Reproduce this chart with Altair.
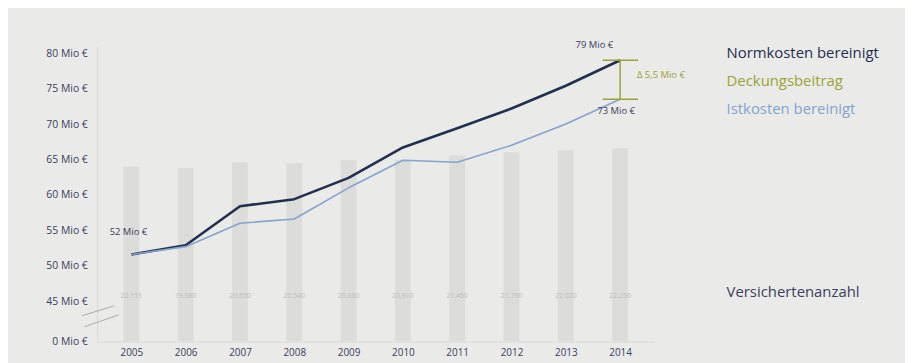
import altair as alt
import pandas as pd

years = [2005, 2006, 2007, 2008, 2009, 2010, 2011, 2012, 2013, 2014]
normkosten = [51.6, 52.9, 58.4, 59.4, 62.4, 66.7, 69.4, 72.2, 75.4, 79.0]
istkosten = [51.6, 52.7, 56.0, 56.6, 61.0, 64.9, 64.6, 67.0, 70.0, 73.5]
versicherte = [20151, 19980, 20650, 20540, 20880, 20910, 21450, 21790, 22020, 22250]
versicherte_labels = ["20.151", "19.980", "20.650", "20.540", "20.880",
                      "20.910", "21.450", "21.790", "22.020", "22.250"]
y_ticks = [39.3, 45, 50, 55, 60, 65, 70, 75, 80]

NAVY = "#22304f"
LIGHT = "#84a4cd"
OLIVE = "#9aa33a"
FONT = "Open Sans"
BG = "#eaeae8"

x_scale = alt.Scale(domain=[2004.462, 2014.537], nice=False, zero=False)
y_scale = alt.Scale(domain=[39.3, 80.98], nice=False, zero=False)
x_axis = alt.Axis(values=years, format="d", title=None, grid=False, ticks=False,
                  labelFont=FONT, labelFontSize=10, labelColor="#3b4060", labelPadding=6,
                  domainColor="#dcdcdc", labelFlush=False)


def X(field):
    return alt.X(field, scale=x_scale, axis=x_axis, title=None)


df_bars = pd.DataFrame({"year": years, "count": versicherte, "label": versicherte_labels})
df_lines = pd.DataFrame({
    "year": years * 2,
    "value": normkosten + istkosten,
    "series": ["Normkosten bereinigt"] * len(years) + ["Istkosten bereinigt"] * len(years),
})

bars = alt.Chart(df_bars).mark_bar(width=16, color="#dcdcda").encode(
    x=X("year:Q"),
    y=alt.Y("count:Q", scale=alt.Scale(domain=[0, 34000], nice=False), axis=None),
)

bar_labels = alt.Chart(df_bars).mark_text(
    font=FONT, fontSize=7, color="#bdbdbd", baseline="middle"
).encode(
    x=X("year:Q"),
    y=alt.value(252),
    text="label:N",
)

lines = alt.Chart(df_lines).mark_line(strokeJoin="round").encode(
    x=X("year:Q"),
    y=alt.Y("value:Q", scale=y_scale, axis=alt.Axis(
        values=y_ticks, title=None, grid=False, ticks=False,
        labelExpr="datum.value < 44 ? '0 Mio €' : datum.value + ' Mio €'",
        labelFont=FONT, labelFontSize=10.5, labelColor="#3b4060", labelPadding=10,
        domainColor="#d8d8d8")),
    color=alt.Color("series:N", scale=alt.Scale(
        domain=["Normkosten bereinigt", "Istkosten bereinigt"], range=[NAVY, LIGHT]), legend=None),
    strokeWidth=alt.StrokeWidth("series:N", scale=alt.Scale(
        domain=["Normkosten bereinigt", "Istkosten bereinigt"], range=[2.6, 1.6]), legend=None),
)

# value annotations
ann_labels = ["52 Mio €", "79 Mio €", "73 Mio €"]
ann_years = [2005, 2014, 2014]
ann_values = [normkosten[0], normkosten[-1], istkosten[-1]]
ann_dx = [-3, -26, -4]
ann_dy = [-23, -15, 12]
ann_layers = []
for lab, yr, v, dx, dy in zip(ann_labels, ann_years, ann_values, ann_dx, ann_dy):
    ann_layers.append(alt.Chart(pd.DataFrame({"year": [yr], "value": [v], "label": [lab]})).mark_text(
        font=FONT, fontSize=9.5, color="#3b4060", dx=dx, dy=dy, baseline="middle"
    ).encode(x=X("year:Q"),
             y=alt.Y("value:Q", scale=y_scale, axis=None), text="label:N"))

# delta bracket
df_br = pd.DataFrame({"year": [2014], "x0": [2014 - 0.32], "x1": [2014 + 0.33],
                      "top": [normkosten[-1]], "bot": [istkosten[-1]],
                      "mid": [(normkosten[-1] + istkosten[-1]) / 2],
                      "label": ["Δ 5,5 Mio €"]})
br_v = alt.Chart(df_br).mark_rule(color=OLIVE, strokeWidth=1.5).encode(
    x=X("year:Q"),
    y=alt.Y("top:Q", scale=y_scale, axis=None), y2="bot:Q")
br_top = alt.Chart(df_br).mark_rule(color=OLIVE, strokeWidth=1.5).encode(
    x=X("x0:Q"), x2="x1:Q",
    y=alt.Y("top:Q", scale=y_scale, axis=None))
br_bot = alt.Chart(df_br).mark_rule(color=OLIVE, strokeWidth=1.5).encode(
    x=X("x0:Q"), x2="x1:Q",
    y=alt.Y("bot:Q", scale=y_scale, axis=None))
br_text = alt.Chart(df_br).mark_text(
    font=FONT, fontSize=9.5, color=OLIVE, align="left", dx=17, dy=-5, baseline="middle"
).encode(x=X("year:Q"),
         y=alt.Y("mid:Q", scale=y_scale, axis=None), text="label:N")

# axis break marks
brk_x0 = [2004.086, 2004.139]
brk_x1 = [2004.677, 2004.767]
brk_y0 = [42.94, 41.40]
brk_y1 = [44.34, 43.08]
df_brk = pd.DataFrame({"x0": brk_x0, "x1": brk_x1, "y0": brk_y0, "y1": brk_y1})
brk = alt.Chart(df_brk).mark_rule(color="#9a9aa5", strokeWidth=0.8).encode(
    x=X("x0:Q"), x2="x1:Q",
    y=alt.Y("y0:Q", scale=y_scale, axis=None), y2="y1:Q")

# legend texts
leg_labels = ["Normkosten bereinigt", "Deckungsbeitrag", "Istkosten bereinigt", "Versichertenanzahl"]
leg_colors = [NAVY, OLIVE, LIGHT, "#3b4060"]
leg_y = [7, 35, 63, 248]
leg_layers = []
for lab, col, yy in zip(leg_labels, leg_colors, leg_y):
    leg_layers.append(alt.Chart(pd.DataFrame({"t": [lab]})).mark_text(
        font=FONT, fontSize=15, color=col, align="left", baseline="middle"
    ).encode(x=alt.value(635), y=alt.value(yy), text="t:N"))

chart = alt.layer(
    bars, bar_labels, lines, *ann_layers, br_v, br_top, br_bot, br_text, brk, *leg_layers
).resolve_scale(y="independent").properties(
    width=562, height=298,
    autosize=alt.AutoSizeParams(type="none"),
    padding={"left": 90, "top": 37, "right": 253, "bottom": 20},
    background=BG,
).configure_view(stroke=None)

chart.save("out.html", embed_options={"renderer": "svg", "actions": False})
